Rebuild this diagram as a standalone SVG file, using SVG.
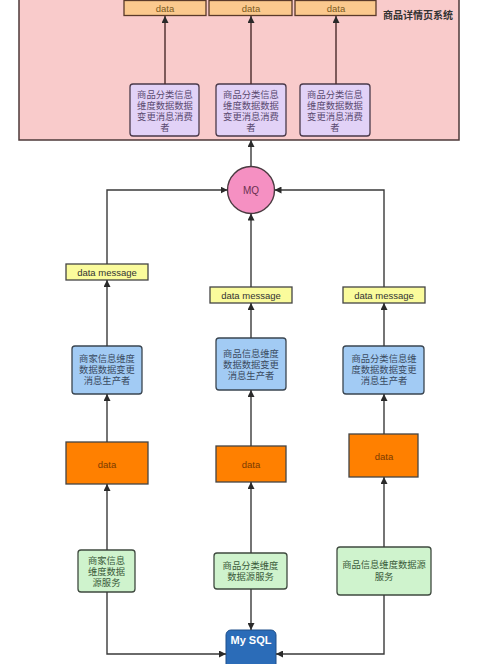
<svg xmlns="http://www.w3.org/2000/svg" width="499" height="664" viewBox="0 0 499 664">
<style>
text{font-family:"Liberation Sans","Noto Sans CJK SC",sans-serif;font-size:9.5px;text-anchor:middle;dominant-baseline:central}
.cn{font-size:9.3px}
.top{fill:#fbc98e;stroke:#5a3a2a;stroke-width:1.3}
.cons{fill:#e2d2f7;stroke:#4a3a4a;stroke-width:1.3}
.prod{fill:#a2cbf4;stroke:#3a4550;stroke-width:1.3}
.msg{fill:#fafb9c;stroke:#444;stroke-width:1.3}
.dat{fill:#ff8000;stroke:#444;stroke-width:1.3}
.src{fill:#cff3cd;stroke:#3f4a3f;stroke-width:1.3}
.ln{fill:none;stroke:#3a3a3a;stroke-width:1.4}
.lnr{fill:none;stroke:#4a2a2a;stroke-width:1.4}
</style>
<defs>
<marker id="a" viewBox="0 0 10 10" refX="10" refY="5" markerWidth="7" markerHeight="7" markerUnits="userSpaceOnUse" orient="auto"><path d="M0,0L10,5L0,10z" fill="#2a2a2a"/></marker>
</defs>
<rect width="499" height="664" fill="#fff"/>
<g id="system">
<rect x="19" y="-5" width="440" height="145" fill="#f9cbcb" stroke="#4d3a3a" stroke-width="1.5"/>
<text class="cn" x="418" y="15" style="font-weight:bold;font-size:10px;fill:#333">商品详情页系统</text>
</g>
<g id="top1"><rect class="top" x="124" y="0.5" width="82" height="15"/><text x="165" y="8" fill="#7a5a20">data</text></g>
<g id="top2"><rect class="top" x="209" y="0.5" width="83" height="15"/><text x="251" y="8" fill="#7a5a20">data</text></g>
<g id="top3"><rect class="top" x="295" y="0.5" width="81" height="15"/><text x="336" y="8" fill="#7a5a20">data</text></g>
<g id="cons1"><rect class="cons" x="130" y="84" width="69" height="52" rx="3"/><text class="cn" fill="#5a4a70"><tspan x="165" y="95">商品分类信息</tspan><tspan x="165" y="106">维度数据数据</tspan><tspan x="165" y="117">变更消息消费</tspan><tspan x="165" y="128">者</tspan></text></g>
<g id="cons2"><rect class="cons" x="216" y="84" width="70" height="52" rx="3"/><text class="cn" fill="#5a4a70"><tspan x="251" y="95">商品分类信息</tspan><tspan x="251" y="106">维度数据数据</tspan><tspan x="251" y="117">变更消息消费</tspan><tspan x="251" y="128">者</tspan></text></g>
<g id="cons3"><rect class="cons" x="300" y="84" width="70" height="52" rx="3"/><text class="cn" fill="#5a4a70"><tspan x="335" y="95">商品分类信息</tspan><tspan x="335" y="106">维度数据数据</tspan><tspan x="335" y="117">变更消息消费</tspan><tspan x="335" y="128">者</tspan></text></g>
<g id="mq"><circle cx="251" cy="190" r="23.5" fill="#f590c2" stroke="#4a3a40" stroke-width="1.4"/><text x="251" y="190" fill="#6a3050" style="font-size:10px">MQ</text></g>
<g id="msg1"><rect class="msg" x="66" y="264" width="82" height="16"/><text x="107" y="272" fill="#333">data message</text></g>
<g id="msg2"><rect class="msg" x="210" y="287" width="82" height="16"/><text x="251" y="295" fill="#333">data message</text></g>
<g id="msg3"><rect class="msg" x="343" y="287" width="82" height="16"/><text x="384" y="295" fill="#333">data message</text></g>
<g id="prod1"><rect class="prod" x="72" y="346" width="70" height="48" rx="3"/><text class="cn" fill="#3a4a60"><tspan x="107" y="359">商家信息维度</tspan><tspan x="107" y="370">数据数据变更</tspan><tspan x="107" y="381">消息生产者</tspan></text></g>
<g id="prod2"><rect class="prod" x="216" y="338" width="70" height="52" rx="3"/><text class="cn" fill="#3a4a60"><tspan x="251" y="354">商品信息维度</tspan><tspan x="251" y="365">数据数据变更</tspan><tspan x="251" y="376">消息生产者</tspan></text></g>
<g id="prod3"><rect class="prod" x="343" y="346" width="81" height="48" rx="3"/><text class="cn" fill="#3a4a60"><tspan x="384" y="359">商品分类信息维</tspan><tspan x="384" y="370">度数据数据变更</tspan><tspan x="384" y="381">消息生产者</tspan></text></g>
<g id="data1"><rect class="dat" x="66" y="442" width="82" height="42"/><text x="107" y="464" fill="#7a3a00">data</text></g>
<g id="data2"><rect class="dat" x="216" y="446" width="70" height="36"/><text x="251" y="464" fill="#7a3a00">data</text></g>
<g id="data3"><rect class="dat" x="349" y="434" width="69" height="43"/><text x="384" y="456" fill="#7a3a00">data</text></g>
<g id="src1"><rect class="src" x="78" y="550" width="57" height="42" rx="3"/><text class="cn" fill="#3a5a3a"><tspan x="106.5" y="561">商家信息</tspan><tspan x="106.5" y="572">维度数据</tspan><tspan x="106.5" y="583">源服务</tspan></text></g>
<g id="src2"><rect class="src" x="214" y="553" width="73" height="36" rx="3"/><text class="cn" fill="#3a5a3a"><tspan x="250.5" y="566">商品分类维度</tspan><tspan x="250.5" y="577">数据源服务</tspan></text></g>
<g id="src3"><rect class="src" x="337" y="547" width="94" height="48" rx="3"/><text class="cn" fill="#3a5a3a"><tspan x="384" y="565">商品信息维度数据源</tspan><tspan x="384" y="577">服务</tspan></text></g>
<g id="mysql"><rect x="226" y="630" width="50" height="44" rx="5" fill="#2b6cb8" stroke="#1e4f8a" stroke-width="1"/><text x="251" y="640" fill="#fff" style="font-weight:bold;font-size:11px">My SQL</text></g>
<g id="connectors">
<path class="lnr" d="M165,84V16" marker-end="url(#a)"/>
<path class="lnr" d="M251,84V16" marker-end="url(#a)"/>
<path class="lnr" d="M336,84V16" marker-end="url(#a)"/>
<path class="ln" d="M251,166.5V140" marker-end="url(#a)"/>
<path class="ln" d="M107,264V190H227.5" marker-end="url(#a)"/>
<path class="ln" d="M384,287V190H274.5" marker-end="url(#a)"/>
<path class="ln" d="M251,287V213.5" marker-end="url(#a)"/>
<path class="ln" d="M107,346V280" marker-end="url(#a)"/>
<path class="ln" d="M251,338V303" marker-end="url(#a)"/>
<path class="ln" d="M384,346V303" marker-end="url(#a)"/>
<path class="ln" d="M107,442V394" marker-end="url(#a)"/>
<path class="ln" d="M251,446V390" marker-end="url(#a)"/>
<path class="ln" d="M384,434V394" marker-end="url(#a)"/>
<path class="ln" d="M107,550V484" marker-end="url(#a)"/>
<path class="ln" d="M251,553V482" marker-end="url(#a)"/>
<path class="ln" d="M384,547V477" marker-end="url(#a)"/>
<path class="ln" d="M107,592V654H226" marker-end="url(#a)"/>
<path class="ln" d="M251,589V630" marker-end="url(#a)"/>
<path class="ln" d="M384,595V654H276" marker-end="url(#a)"/>
</g>
</svg>
